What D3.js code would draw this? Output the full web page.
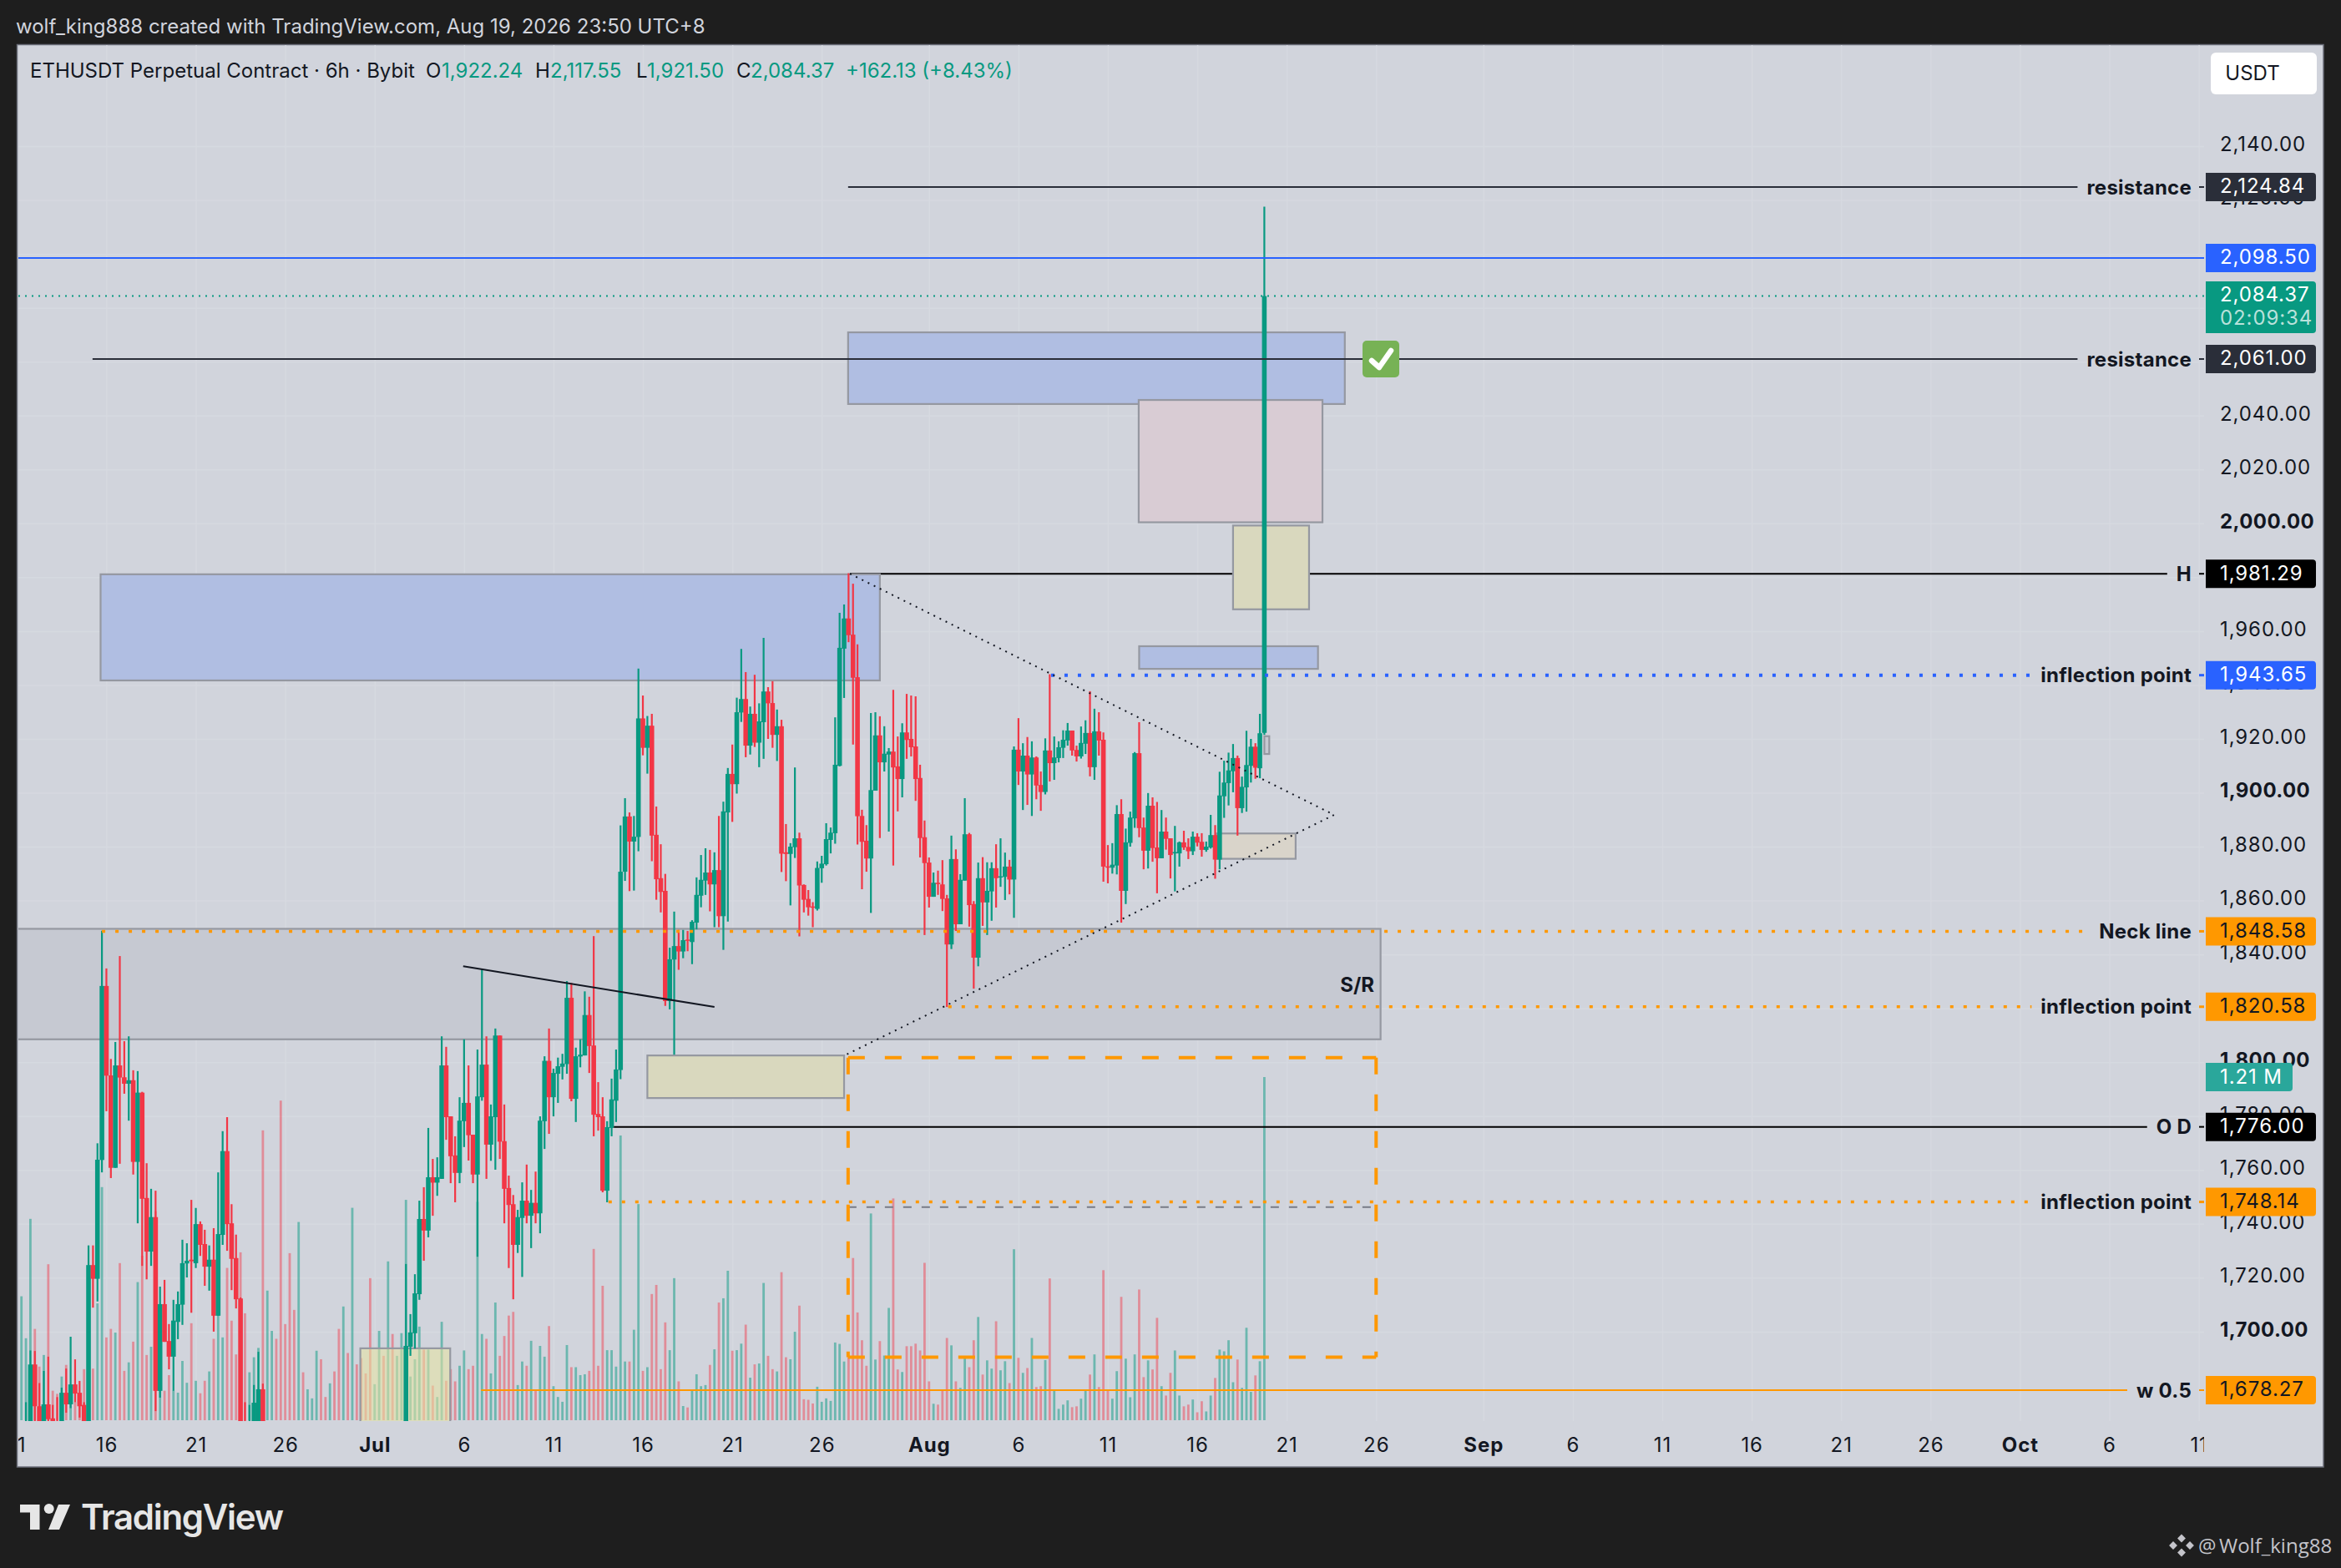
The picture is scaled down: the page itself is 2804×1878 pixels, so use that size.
<!DOCTYPE html>
<html>
<head>
<meta charset="utf-8">
<title>ETHUSDT Perpetual Contract 6h</title>
<script src="https://d3js.org/d3.v7.min.js"></script>
<style>
  html, body { margin: 0; padding: 0; background: #1e1e1e; }
  svg { display: block; font-family: Inter, "Noto Sans", sans-serif; }
</style>
</head>
<body>
<svg id="chart" width="2804" height="1878"></svg>
<script>
// 6h candles, first bar is Jun 11 06:00 (USDT)
// bars 55-85 and the bottoms of a few others sit below the visible pane, those are rough guesses
const opens = [1655,1658,1664,1687.8,1672.3,1660,1673,1667.8,1665,1660,
  1677.3,1673,1680.4,1677.3,1672.8,1662,1724.7,1719.6,1763.7,1828.3,
  1795.1,1760.8,1798.8,1794.4,1792,1793.3,1763,1788.7,1749.6,1729.7,
  1742.5,1678,1710.2,1696.5,1690.7,1703.6,1710,1725.3,1726.7,1725.4,
  1739.9,1732.5,1724.1,1726.7,1705.9,1735.9,1767,1740.2,1727.3,1712.3,
  1662,1650,1658,1660,1678.6,1660,1663,1665,1658,1640,
  1634,1625,1620,1638,1634,1637,1640,1646,1642,1640,
  1643,1640,1632,1642,1638,1652,1648,1645,1642,1634,
  1638,1644,1640,1652,1648,1654,1660,1694.4,1699.4,1713.9,
  1741.8,1737.5,1757.3,1755.3,1756.7,1798.8,1779.9,1765.4,1758.9,1778.1,
  1784.9,1773.1,1758.3,1787,1799.1,1769.4,1779.6,1809.9,1770.7,1753.3,
  1747.3,1732.2,1742.2,1748.6,1743,1747.8,1743.9,1778.1,1800.5,1787,
  1795.7,1798.3,1799.3,1823.9,1786.4,1802.1,1802.5,1817.5,1806.2,1780.8,
  1779.9,1752.3,1775.6,1785.7,1797.1,1870.7,1891.2,1881.9,1883.6,1927.6,
  1916.7,1924.9,1884.4,1868.3,1863.6,1822.7,1838.1,1843.1,1841.1,1845.5,
  1844.6,1851.8,1861.8,1867.4,1870.4,1866,1871.3,1854.2,1892.7,1907,
  1903.2,1929.8,1934.8,1917.5,1929.3,1918.6,1926.2,1937.6,1933.3,1921.5,
  1924.7,1877.9,1877.3,1879.8,1883.1,1865.8,1860.6,1857.8,1856.9,1872,
  1873.5,1882.5,1885,1910,1953.5,1964.7,1958.7,1942.9,1891.4,1882.2,
  1875.6,1900.8,1921.3,1911.3,1914.2,1915.3,1909.8,1905.1,1922.4,1920,
  1917.2,1905.5,1883.5,1874.1,1861.4,1866.6,1866,1860.8,1843.7,1875.4,
  1851.2,1867.4,1884.6,1858.7,1838.8,1868.3,1859.3,1863.4,1872,1868.7,
  1868.8,1872.6,1867.8,1916,1907.9,1913.8,1906.8,1913.1,1902.9,1900.3,
  1915.7,1911,1912.9,1916.7,1919.4,1923.1,1915.9,1913.5,1918.2,1922.2,
  1909.5,1922.8,1919.7,1872.7,1872.2,1873,1892.1,1863.6,1881.4,1890.5,
  1914.7,1887.1,1878.5,1895.2,1879.7,1875.7,1885.6,1883.1,1877.5,1877.5,
  1881.6,1879.9,1878.3,1883.7,1881.8,1878.8,1879.7,1884.3,1875.2,1898.7,
  1903.6,1908,1912.9,1894.3,1902,1910,1917.1,1909.1,1922.24];
const highs = [1664,1673.8,1693,1692.8,1680.9,1685.4,1690.7,1672.8,1675.7,1679.2,
  1686.3,1698.1,1689.7,1681.7,1673.8,1732,1732,1769.9,1848.8,1834.8,
  1801.2,1807.5,1839.4,1807.8,1809.6,1797,1796.7,1789,1762.5,1753,
  1752.3,1716.7,1719.2,1702.8,1711.8,1714.9,1734.1,1732.8,1748.9,1745.9,
  1740.9,1737.8,1732,1738.4,1759.1,1774.4,1779.6,1747.3,1736,1712.7,
  1673.8,1672.8,1680.2,1692.5,1680.7,1665,1666,1666,1660,1645,
  1638,1630,1642,1640,1640,1642,1649,1648,1644,1645,
  1646,1643,1646,1645,1656,1655,1650,1648,1646,1640,
  1647,1646,1656,1654,1658,1664,1725.1,1706.5,1721.3,1748.6,
  1753.6,1775.6,1764.1,1764.7,1809.6,1805.7,1779.9,1772.5,1787,1808.5,
  1798.8,1773.1,1804.7,1834.5,1809.6,1784.3,1812.5,1809.9,1784.3,1757.9,
  1750.7,1745.2,1755.4,1762,1752.6,1759.4,1779.9,1802.2,1812.5,1797.6,
  1801.7,1803.1,1830.1,1829.4,1805.4,1808.5,1826.3,1824.3,1846.8,1792.6,
  1787,1778.1,1793.9,1804.7,1887.9,1898,1892.7,1891.4,1946.1,1936.1,
  1928.5,1929.3,1894.9,1880.9,1869.9,1842.5,1855.9,1849.1,1849.1,1848.7,
  1852.7,1868.6,1876.9,1879.4,1878.8,1877.9,1891.4,1896.7,1909.2,1917.9,
  1935.3,1953.4,1944.8,1932,1943.8,1933.2,1957.5,1939.2,1941.4,1930.9,
  1927.1,1888.4,1881.3,1909.4,1885.2,1866,1863.9,1859.4,1874.5,1876.6,
  1888.7,1887.1,1928,1966.8,1969.9,1981.5,1977.6,1955.1,1893.7,1888,
  1929.6,1929.9,1928.4,1924.7,1916.6,1938.2,1920.9,1925.8,1936.7,1936.1,
  1935.8,1910.4,1889.7,1876,1870.4,1871.1,1875,1862.1,1884.1,1879,
  1869.8,1898,1885.1,1859.8,1874.1,1876.1,1874.2,1874.2,1880.9,1883.1,
  1877.8,1875.1,1917.2,1927.7,1918.4,1920.7,1919.1,1913.5,1907.9,1920.2,
  1944,1920.9,1919.1,1923.2,1925.9,1923.1,1917.5,1924.6,1926.9,1937.7,
  1931.2,1929.9,1922.4,1880.6,1881.3,1895.4,1897.6,1886.7,1893,1915.1,
  1926.2,1890.8,1899.9,1898.3,1896.6,1893.6,1890.8,1883.1,1887.7,1881.9,
  1885.9,1883.1,1885.6,1885,1885,1881.9,1891.8,1888,1907.8,1911.9,
  1914.9,1918.1,1913.8,1906,1923,1920,1918.4,1929.3,2117.55];
const lows = [1650,1652,1660,1660,1655,1655,1660,1660,1655,1655,
  1669.9,1671.6,1673.8,1668.1,1658,1660,1708.9,1711.2,1759.1,1781.8,
  1757,1760.8,1762.3,1788.3,1778.3,1758.3,1740.2,1724.4,1719.4,1724.4,
  1670.5,1675.5,1696.2,1686,1678,1697.2,1702.5,1720.1,1707,1723.6,
  1728.1,1717,1715.2,1700,1705.9,1732.2,1730,1715.4,1708.6,1655,
  1650,1645,1652,1655,1652,1656,1660,1654,1632,1630,
  1620,1616,1616,1631,1632,1635,1637,1639,1638,1638,
  1637,1629,1630,1635,1635,1645,1642,1640,1630,1632,
  1636,1637,1638,1644,1646,1651,1655,1691,1693.7,1711.8,
  1726.3,1735,1743,1750.4,1756.7,1771.2,1755.1,1748,1755.1,1768.5,
  1763.5,1755.1,1727.8,1785.7,1756.7,1763.4,1760.1,1764.1,1740.2,1723.6,
  1712,1729.2,1720.3,1740.2,1731,1740.2,1736.5,1767.8,1773.4,1779.9,
  1784.9,1793.6,1795.7,1785.5,1777.8,1798.1,1802.5,1796,1772.5,1774.6,
  1751.7,1748,1772.5,1777.8,1793.7,1867.3,1863.5,1863.7,1878.3,1913.9,
  1907.1,1874.6,1860.3,1855.6,1820.9,1819.6,1802.8,1834.3,1838.6,1841.2,
  1836.4,1849.3,1857.5,1862.1,1856,1850.1,1850.1,1841.7,1852.2,1889.2,
  1899.7,1926.3,1913.2,1914.2,1917,1909.5,1912.6,1920,1916.7,1911.8,
  1870.6,1867.2,1858.2,1875.8,1846.7,1855.6,1854.4,1850.1,1856.3,1866.6,
  1873,1877.5,1881.1,1909.8,1935.2,1955.9,1917.9,1880.8,1864.2,1870.7,
  1855.4,1900.8,1883.2,1907.9,1885.6,1873,1893.1,1898.3,1912.6,1913.5,
  1897,1876,1847.2,1857.4,1861.4,1862.1,1856.1,1820.5,1842,1848.7,
  1851.2,1867.4,1850.3,1827.3,1835.6,1850.6,1847.2,1852.5,1857.4,1865.1,
  1860.2,1862.3,1853.6,1902.9,1893.6,1895.5,1891.4,1897.6,1893.3,1899.4,
  1904.2,1904.8,1911.3,1912.9,1917.5,1913.8,1911.6,1912.7,1914.4,1906.1,
  1904.8,1913.8,1867,1866.4,1870,1869.7,1851.8,1858.7,1880,1887,
  1883.5,1871.6,1871.9,1874.4,1862.7,1875.7,1878.9,1868.2,1863.4,1872.6,
  1878.8,1875.4,1876.9,1880.1,1876.3,1878.1,1879.3,1868.1,1871.6,1890.7,
  1895.3,1900.2,1884.1,1892.5,1893,1903.8,1905.2,1905.4,1921.5];
const closes = [1660,1664,1687.8,1672.3,1660,1673,1667.5,1664,1660,1677.3,
  1673,1680.4,1677,1672.3,1662,1724.7,1719.6,1763.8,1828.3,1795,
  1760.8,1798.8,1794.3,1792,1793.3,1763,1788.7,1749.3,1729.7,1742.5,
  1678,1710.2,1696.2,1690.7,1704.1,1710.2,1725.4,1726.3,1726.1,1739.9,
  1732.2,1724.1,1726.7,1705.9,1736.2,1767,1739.9,1727,1712,1662,
  1655,1658,1673.6,1678.6,1660,1663,1665,1658,1640,1634,
  1625,1620,1638,1634,1637,1640,1646,1642,1640,1643,
  1640,1632,1642,1638,1652,1648,1645,1642,1634,1638,
  1644,1640,1652,1648,1654,1660,1694.7,1699.7,1714.2,1741.8,
  1737.5,1757.3,1755.3,1757.3,1798.8,1779.6,1765.1,1758.9,1778.3,1784.9,
  1772.9,1758.3,1787.3,1799.1,1769.4,1779.9,1809.9,1770.5,1753,1747,
  1732.2,1742.5,1748.6,1743,1747.8,1743.9,1778.3,1800.5,1787,1796,
  1798.5,1799.5,1823.9,1786.4,1802.2,1802.8,1817.5,1806,1780.5,1779.6,
  1752.3,1775.9,1786.2,1797.3,1870.7,1891.2,1881.9,1883.7,1927.6,1916.7,
  1924.9,1884.1,1867.9,1863.2,1822.7,1838.2,1843.1,1841.1,1845.3,1845.1,
  1852.1,1862.1,1867.7,1870.4,1866,1871.3,1854.2,1893.1,1907,1903.2,
  1929.9,1934.8,1917.5,1929.3,1918.6,1926.5,1937.6,1933.2,1921.5,1924.7,
  1877.4,1877.3,1880,1883.1,1865.6,1860.3,1857.5,1857.5,1872.1,1873.7,
  1882.8,1885.2,1910.4,1953.8,1964.7,1958.5,1942.7,1891.3,1881.8,1875.6,
  1901,1921.3,1911.3,1914.5,1915.3,1909.4,1905.1,1922.4,1919.6,1916.9,
  1905.1,1883.2,1873.9,1861.4,1866.6,1866.1,1860.6,1843.7,1875.4,1851.2,
  1867.7,1884.6,1858.3,1838.8,1868.3,1859.3,1863.6,1872,1868.3,1869,
  1872.6,1867.8,1916,1907.9,1913.8,1906.8,1913.1,1902.7,1900.3,1915.7,
  1911,1913.1,1916.9,1919.7,1923.1,1915.7,1913.5,1918.5,1922.2,1909.5,
  1922.8,1919.4,1872.6,1872.2,1873.3,1892.1,1863.6,1881.6,1890.8,1914.7,
  1886.9,1878.5,1895.2,1879.5,1875.7,1885.6,1882.9,1876.9,1878,1881.6,
  1879.7,1878.3,1883.7,1881.5,1878.8,1880,1884.3,1875.2,1899,1903.8,
  1908.3,1912.9,1894.3,1902.2,1910.3,1917.1,1909.3,1922.1,2084.37];
// volume in millions
const volumes = [.437,.289,.71,.322,.189,.23,.55,.104,.093,.154,
  .195,.077,.064,.05,.18,.104,.182,.412,.822,.292,
  .322,.309,.554,.174,.204,.277,.487,.58,.23,.259,
  .737,.172,.104,.159,.104,.097,.209,.132,.342,.139,
  .095,.139,.172,.287,.374,.292,.537,.351,.232,.592,
  .377,.169,.222,.255,1.022,.457,.315,.287,1.127,.339,
  .589,.389,.699,.169,.109,.077,.245,.215,.082,.13,
  .172,.322,.401,.237,.749,.197,.219,.165,.501,.127,
  .315,.227,.56,.304,.227,.307,.777,.154,.215,.33,
  .249,.249,.122,.082,.347,.139,.18,.137,.192,.246,
  .18,.192,.77,.304,.287,.165,.415,.227,.297,.369,
  .382,.124,.207,.192,.28,.107,.262,.224,.332,.12,
  .082,.065,.265,.187,.187,.159,.162,.174,.604,.192,
  .474,.247,.247,.189,1.004,.207,.207,.319,.762,.174,
  .187,.445,.477,.18,.345,.247,.501,.137,.05,.045,
  .104,.162,.12,.124,.195,.25,.415,.43,.527,.245,
  .247,.27,.337,.15,.197,.2,.484,.227,.18,.172,
  .522,.222,.215,.312,.404,.074,.072,.059,.118,.065,
  .077,.068,.274,.269,.207,.222,.572,.38,.282,.192,
  .729,.214,.279,.228,.396,.782,.179,.17,.261,.261,
  .27,.246,.555,.137,.058,.055,.105,.29,.264,.137,
  .114,.22,.187,.282,.364,.161,.211,.182,.349,.176,
  .208,.131,.603,.22,.167,.184,.29,.117,.12,.212,
  .5,.103,.04,.055,.07,.046,.049,.076,.103,.161,
  .232,.117,.529,.105,.076,.173,.435,.217,.081,.232,
  .461,.152,.211,.179,.361,.12,.087,.167,.246,.087,
  .049,.055,.073,.028,.067,.031,.087,.149,.249,.243,
  .282,.134,.214,.114,.326,.1,.158,.208,1.21];

const gridPrices = [2140,2120,2100,2080,2060,2040,2020,2000,1980,1960,1940,1920,1900,1880,1860,1840,1820,1800,1780,1760,1740,1720,1700];
// 2100, 2080, 2060, 1980 and 1820 are completely behind the tags in the picture
const priceTicks = [2140,2120,2040,2020,2000,1960,1940,1920,1900,1880,1860,1840,1800,1780,1760,1740,1720,1700];
const dateTickBars = [-1,19,39,59,79,99,119,139,159,179,203,223,243,263,283,303,327,347,367,387,407,427,447,467,487];
const dateTickLabels = ["11","16","21","26","Jul","6","11","16","21","26","Aug","6","11","16","21","26","Sep","6","11","16","21","26","Oct","6","11"];
const monthLabels = ["Jul","Aug","Sep","Oct"];

// horizontal levels with their right hand tags
const levelPrices = [2124.84,2061,1981.29,1943.65,1848.58,1820.58,1776,1748.14,1678.27];
const levelNames = ["resistance","resistance","H","inflection point","Neck line","inflection point","O D","inflection point","w 0.5"];
const levelStartBars = [184.9,15.9,185.3,230.3,18,207.3,132.5,131.3,102.8];
const levelKinds = ["dark","dark","black","blue","orange","orange","black","orange","orangeSolid"];

// drawn zones: left bar, right bar, top price, bottom price
const zoneLeft = [-10,17.7,184.9,249.9,271,250,267.3,140,75.8,278];
const zoneRight = [304,192,296,291,288,290,285,184,95.9,279.1];
const zoneTop = [1849.5,1981.1,2070.9,2045.8,1999.2,1954.4,1884.9,1802.5,1693.8,1921];
const zoneBottom = [1808.5,1941.7,2044.3,2000.4,1968.1,1946,1875.5,1786.7,1660,1914.4];
const zoneFills = ["#c6c9d2","#b0bee2","#b0bee2","#d9ccd4","#d9d8be","#b0bee2","#d9d4ca","#d9d8be","rgba(232,228,160,.55)","#c6c9d2"];

// triangle and small trend line: bar, price pairs
const triangleBars = [185.3,293.6,184.1];
const trianglePrices = [1981.3,1891.8,1802.5];
const trendBars = [98.8,155];
const trendPrices = [1835.6,1820.5];
const projBoxBars = [184.9,303];
const projBoxPrices = [1801.7,1690.5];
const projMidPrice = 1746.2;

const upColor = "#089981", downColor = "#f23645", paneBg = "#d1d4dc";
const paneLeft = 22, paneRight = 2640, paneTop = 54, paneBottom = 1702;
const axisSpacing = 0.9;

const x = d3.scaleLinear().domain([0, 278]).range([25.7, 1514.4]);
const y = d3.scaleLinear().domain([2124.84, 1678.27]).range([224, 1665]);
const yVol = d3.scaleLinear().domain([0, 1.21]).range([1701, 1290]);

const svg = d3.select("#chart");
svg.append("rect").attr("width", 2804).attr("height", 1878).attr("fill", "#1e1e1e");
svg.append("rect").attr("x", 20.5).attr("y", 53.5).attr("width", 2762.5).attr("height", 1703.5)
  .attr("fill", paneBg).attr("stroke", "#6a6d78").attr("stroke-width", 1.5);

let defs = svg.append("defs");
defs.append("clipPath").attr("id", "pane").append("rect")
  .attr("x", paneLeft).attr("y", paneTop).attr("width", paneRight - paneLeft).attr("height", paneBottom - paneTop);
defs.append("clipPath").attr("id", "dateClip").append("rect")
  .attr("x", paneLeft).attr("y", paneBottom).attr("width", paneRight - paneLeft).attr("height", 55);

// grid, barely visible
let grid = svg.append("g").attr("clip-path", "url(#pane)");
grid.append("g").attr("transform", `translate(${paneLeft},0)`)
  .call(d3.axisRight(y).tickValues(gridPrices).tickSize(paneRight - paneLeft).tickFormat(""))
  .call(g => g.select(".domain").remove())
  .selectAll("line").attr("stroke", "#d6d9e0").attr("stroke-width", 1.5);
grid.append("g").attr("transform", `translate(0,${paneTop})`)
  .call(d3.axisBottom(x).tickValues(dateTickBars).tickSize(paneBottom - paneTop).tickFormat(""))
  .call(g => g.select(".domain").remove())
  .selectAll("line").attr("stroke", "#d6d9e0").attr("stroke-width", 1.5);

// price axis
let yAxis = svg.append("g").attr("transform", "translate(2659,0)")
  .call(d3.axisRight(y).tickValues(priceTicks).tickSize(0).tickPadding(0).tickFormat(d3.format(",.2f")));
yAxis.select(".domain").remove();
yAxis.selectAll("text")
  .attr("font-family", "Inter").attr("font-size", 24).attr("fill", "#131722")
  .attr("dy", "0.22em")
  .attr("letter-spacing", d => d % 100 == 0 ? 0.4 : axisSpacing)
  .attr("font-weight", d => d % 100 == 0 ? 700 : 400);

// date axis
let xAxis = svg.append("g").attr("clip-path", "url(#dateClip)").append("g")
  .attr("transform", `translate(0,${paneBottom})`)
  .call(d3.axisBottom(x).tickValues(dateTickBars).tickSize(0).tickPadding(0)
    .tickFormat((d, i) => dateTickLabels[i]));
xAxis.select(".domain").remove();
xAxis.selectAll("text")
  .attr("y", 37)
  .attr("dy", 0)
  .attr("font-family", "Inter").attr("font-size", 24).attr("fill", "#131722")
  .attr("letter-spacing", axisSpacing)
  .attr("font-weight", d => monthLabels.includes(dateTickLabels[dateTickBars.indexOf(d)]) ? 700 : 400);

let plot = svg.append("g").attr("clip-path", "url(#pane)");

// volume
plot.append("g").selectAll("rect").data(volumes).join("rect")
  .attr("x", (d, i) => x(i) - 1.4).attr("width", 2.8)
  .attr("y", d => yVol(d)).attr("height", d => yVol(0) - yVol(d))
  .attr("fill", (d, i) => closes[i] >= opens[i] ? "rgba(8,153,129,.5)" : "rgba(242,54,69,.45)");

// H line goes under the zones
let underZones = plot.append("g");

// zones
plot.append("g").selectAll("rect").data(zoneFills).join("rect")
  .attr("x", (d, i) => x(zoneLeft[i])).attr("width", (d, i) => x(zoneRight[i]) - x(zoneLeft[i]))
  .attr("y", (d, i) => y(zoneTop[i])).attr("height", (d, i) => y(zoneBottom[i]) - y(zoneTop[i]))
  .attr("fill", d => d).attr("stroke", "#9598a1").attr("stroke-width", 2.2);

plot.append("text").attr("x", 1646).attr("y", 1188).attr("text-anchor", "end")
  .attr("font-family", "Inter").attr("font-weight", 700).attr("font-size", 24).attr("fill", "#131722")
  .text("S/R");

// candles
let candles = plot.append("g").selectAll("g").data(closes).join("g");
candles.append("rect")
  .attr("x", (d, i) => x(i) - 1.1).attr("width", 2.2)
  .attr("y", (d, i) => y(highs[i])).attr("height", (d, i) => y(lows[i]) - y(highs[i]))
  .attr("fill", (d, i) => d >= opens[i] ? upColor : downColor);
candles.append("rect")
  .attr("x", (d, i) => x(i) - 2.8).attr("width", 5.6)
  .attr("y", (d, i) => y(Math.max(opens[i], d)))
  .attr("height", (d, i) => Math.max(1.5, Math.abs(y(opens[i]) - y(d))))
  .attr("fill", (d, i) => d >= opens[i] ? upColor : downColor);

let overZones = plot.append("g");

// full width lines of the live values
overZones.append("line").attr("x1", paneLeft).attr("x2", paneRight).attr("y1", y(2098.5)).attr("y2", y(2098.5))
  .attr("stroke", "#2962ff").attr("stroke-width", 2);
overZones.append("line").attr("x1", paneLeft).attr("x2", paneRight).attr("y1", y(closes[278])).attr("y2", y(closes[278]))
  .attr("stroke", upColor).attr("stroke-width", 2).attr("stroke-dasharray", "2 6");

const levelStyles = {
  dark: { stroke: "#2a2e39", width: 2, dash: null, tag: "#2a2e39", text: "#fff" },
  black: { stroke: "#000", width: 2, dash: null, tag: "#000", text: "#fff" },
  blue: { stroke: "#2962ff", width: 4, dash: "4 12", tag: "#2962ff", text: "#fff" },
  orange: { stroke: "#ff9800", width: 3.5, dash: "4 12", tag: "#ff9800", text: "#131722" },
  orangeSolid: { stroke: "#ff9800", width: 2, dash: null, tag: "#ff9800", text: "#131722" }
};

function tag(cx, cy, w, h, fill) {
  // square on the left, small radius on the right
  let x0 = cx, x1 = cx + w, y0 = cy - h / 2, y1 = cy + h / 2, r = 4;
  return svg.append("path")
    .attr("d", `M${x0},${y0}H${x1 - r}Q${x1},${y0} ${x1},${y0 + r}V${y1 - r}Q${x1},${y1} ${x1 - r},${y1}H${x0}Z`)
    .attr("fill", fill);
}
function tagText(tx, ty, s, fill, op) {
  return svg.append("text").attr("x", tx).attr("y", ty).attr("dy", "0.36em")
    .attr("font-family", "Inter").attr("font-size", 24).attr("letter-spacing", axisSpacing).attr("fill", fill)
    .attr("fill-opacity", op == null ? 1 : op).text(s);
}

levelPrices.forEach((p, i) => {
  let st = levelStyles[levelKinds[i]];
  let label = svg.append("text").attr("x", 2625).attr("y", y(p)).attr("dy", "0.36em")
    .attr("text-anchor", "end").attr("font-family", "Inter").attr("font-weight", 700)
    .attr("font-size", 24).attr("letter-spacing", 0.25).attr("fill", "#131722").text(levelNames[i]);
  let textLeft = 2625 - label.node().getComputedTextLength();
  let g = i == 2 ? underZones : overZones;
  let x2 = textLeft - 11;
  g.append("line").attr("x1", x(levelStartBars[i])).attr("x2", x2).attr("y1", y(p)).attr("y2", y(p))
    .attr("stroke", st.stroke).attr("stroke-width", st.width).attr("stroke-dasharray", st.dash);
  svg.append("line").attr("x1", 2634).attr("x2", 2640).attr("y1", y(p)).attr("y2", y(p))
    .attr("stroke", st.stroke).attr("stroke-width", Math.min(st.width, 3));
  tag(2642, y(p), 132, 34, st.tag);
  tagText(2659, y(p) - 1.3, d3.format(",.2f")(p), st.text);
});

// live price tags
tag(2642, y(2098.5), 132, 34, "#2962ff");
tagText(2659, y(2098.5) - 1.3, "2,098.50", "#fff");
svg.append("path").attr("d", "M2642,337H2770Q2774,337 2774,341V395Q2774,399 2770,399H2642Z").attr("fill", upColor);
tagText(2659, 352, "2,084.37", "#fff");
tagText(2659, 380.5, "02:09:34", "#fff", 0.72);
tag(2642, yVol(1.21), 104, 34, "#2aa79b");
tagText(2659, yVol(1.21) - 1, "1.21 M", "#fff");

// triangle
overZones.append("path")
  .attr("d", d3.line().x(d => x(d[0])).y(d => y(d[1]))(triangleBars.map((b, i) => [b, trianglePrices[i]])))
  .attr("fill", "none").attr("stroke", "#131722").attr("stroke-width", 2).attr("stroke-dasharray", "2 6");

// trend line
overZones.append("line")
  .attr("x1", x(trendBars[0])).attr("y1", y(trendPrices[0]))
  .attr("x2", x(trendBars[1])).attr("y2", y(trendPrices[1]))
  .attr("stroke", "#131722").attr("stroke-width", 2);

// projection box, every side dashed from its top left corner
overZones.append("line").attr("x1", x(projBoxBars[0])).attr("x2", x(projBoxBars[1]))
  .attr("y1", y(projMidPrice)).attr("y2", y(projMidPrice))
  .attr("stroke", "#787b86").attr("stroke-width", 2).attr("stroke-dasharray", "10 12");
[[0, 0, 1, 0], [0, 0, 0, 1], [0, 1, 1, 1], [1, 0, 1, 1]].forEach(s => {
  overZones.append("line")
    .attr("x1", x(projBoxBars[s[0]])).attr("y1", y(projBoxPrices[s[1]]))
    .attr("x2", x(projBoxBars[s[2]])).attr("y2", y(projBoxPrices[s[3]]))
    .attr("stroke", "#ff9800").attr("stroke-width", 4).attr("stroke-dasharray", "20 24");
});

// check mark on the upper resistance
let check = overZones.append("g").attr("transform", `translate(1654,${y(2061)})`);
check.append("rect").attr("x", -22).attr("y", -22).attr("width", 44).attr("height", 44).attr("rx", 5).attr("fill", "#77b255");
check.append("path").attr("d", "M-11,2L-2,10L12,-10").attr("fill", "none")
  .attr("stroke", "#fff").attr("stroke-width", 6.5).attr("stroke-linecap", "round").attr("stroke-linejoin", "round");

// top bar
svg.append("text").attr("x", 19).attr("y", 40).attr("font-family", "Inter").attr("font-size", 24)
  .attr("fill", "#d1d4dc").text("wolf_king888 created with TradingView.com, Aug 19, 2026 23:50 UTC+8");

// legend
const legendParts = [
  [36, "ETHUSDT Perpetual Contract · 6h · Bybit", "#131722"],
  [510, "O", "#131722"], [529, "1,922.24", upColor],
  [641, "H", "#131722"], [659, "2,117.55", upColor],
  [762, "L", "#131722"], [775, "1,921.50", upColor],
  [882, "C", "#131722"], [899, "2,084.37", upColor],
  [1013, "+162.13 (+8.43%)", upColor]
];
svg.append("g").selectAll("text").data(legendParts).join("text")
  .attr("x", d => d[0]).attr("y", 93).attr("font-family", "Inter").attr("font-size", 24)
  .attr("fill", d => d[2]).text(d => d[1]);

// currency button
svg.append("rect").attr("x", 2648).attr("y", 63).attr("width", 127).attr("height", 50).attr("rx", 6).attr("fill", "#fff");
svg.append("text").attr("x", 2698).attr("y", 87).attr("dy", "0.36em").attr("text-anchor", "middle")
  .attr("font-family", "Inter").attr("font-size", 24).attr("fill", "#131722").text("USDT");

// TradingView logo
let logo = svg.append("g").attr("fill", "#e6e6e6");
logo.append("path").attr("d", "M24,1802H47.5V1832H36V1811.5H24Z");
logo.append("circle").attr("cx", 58.7).attr("cy", 1807).attr("r", 6);
logo.append("path").attr("d", "M70,1802H84L71,1832H58Z");
svg.append("text").attr("x", 97).attr("y", 1832).attr("font-family", "Inter").attr("font-weight", 600)
  .attr("font-size", 42).attr("letter-spacing", -1.3).attr("fill", "#e6e6e6").text("TradingView");

// watermark
let wm = svg.append("g").attr("transform", "translate(2613,1851)").attr("fill", "#c4c4ca");
[[0, -8.5], [-10, 0], [10, 0], [0, 8.5]].forEach(p => {
  wm.append("rect").attr("x", p[0] - 3.5).attr("y", p[1] - 3.5).attr("width", 7).attr("height", 7)
    .attr("transform", `rotate(45 ${p[0]} ${p[1]})`);
});
wm.append("rect").attr("x", -2.5).attr("y", -2.5).attr("width", 5).attr("height", 5).attr("transform", "rotate(45)").attr("fill", "#1e1e1e");
svg.append("text").attr("x", 2633).attr("y", 1860).attr("font-family", "Open Sans").attr("font-size", 24)
  .attr("fill", "#c4c4ca").text("@");
svg.append("text").attr("x", 2658).attr("y", 1860).attr("font-family", "Open Sans").attr("font-size", 24)
  .attr("fill", "#c4c4ca").text("Wolf_king88");
</script>
</body>
</html>
